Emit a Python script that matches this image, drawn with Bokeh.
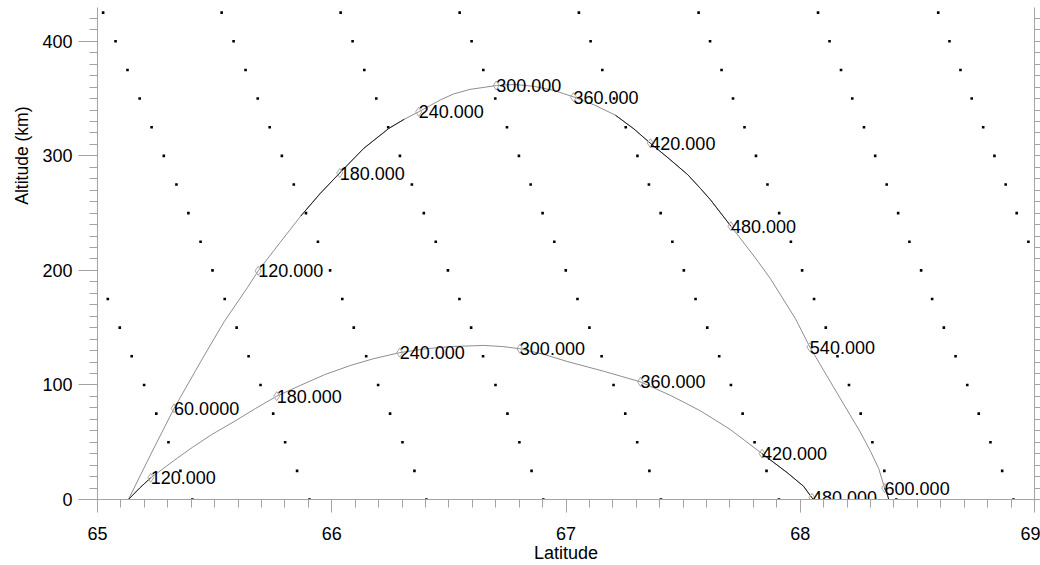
from bokeh.plotting import figure
from bokeh.models import (LinearAxis, Range1d, Title, ColumnDataSource,
                          SingleIntervalTicker, CustomJSTickFormatter)
from bokeh.embed import file_html
from bokeh.resources import INLINE
from bokeh.core.properties import value

# ---------------- data ----------------
# background sample dots (altitude levels, and latitude of each dot per diagonal row)
dot_alt = [425, 400, 375, 350, 325, 300, 275, 250, 225, 200, 175, 150, 125, 100, 75, 50, 25, 0]
dot_lat = [
    [None] * 10 + [65.044, 65.095, 65.146, 65.199, 65.251, 65.303, 65.354, 65.405],
    [65.024, 65.077, 65.128, 65.180, 65.231, 65.283, 65.337, 65.388, 65.440, 65.491,
     65.543, 65.594, 65.645, 65.696, 65.750, 65.801, 65.852, 65.905],
    [65.530, 65.581, 65.632, 65.684, 65.735, 65.787, 65.838, 65.890, 65.941, 65.993,
     66.045, 66.094, 66.147, 66.198, 66.249, 66.302, 66.353, 66.404],
    [66.038, 66.089, 66.139, 66.190, 66.241, 66.291, 66.342, 66.393, 66.444, 66.496,
     66.545, 66.595, 66.646, 66.699, 66.750, 66.801, 66.853, 66.903],
    [66.546, 66.597, 66.647, 66.698, 66.748, 66.799, 66.849, 66.900, 66.950, 66.999,
     67.049, 67.100, 67.152, 67.203, 67.253, 67.304, 67.356, 67.405],
    [67.055, 67.105, 67.155, 67.205, 67.255, 67.305, 67.354, 67.404, 67.454, 67.503,
     67.553, 67.603, 67.654, 67.704, 67.754, 67.805, 67.856, 67.909],
    [67.566, 67.615, 67.664, 67.713, 67.762, 67.811, 67.860, 67.910, 67.960, 68.008,
     68.059, 68.109, 68.159, 68.208, 68.258, 68.308, 68.359, 68.410],
    [68.076, 68.125, 68.174, 68.222, 68.272, 68.320, 68.369, 68.418, 68.466, 68.516,
     68.563, 68.613, 68.663, 68.713, 68.762, 68.812, 68.862, 68.910],
    [68.589, 68.637, 68.684, 68.732, 68.781, 68.829, 68.877, 68.924, 68.974, 69.023] + [None] * 8,
]

# outer trajectory
outer_lat = [65.132, 65.230, 65.327, 65.448, 65.540, 65.640, 65.686, 65.780, 65.868, 65.950,
             66.034, 66.137, 66.244, 66.310, 66.371, 66.465, 66.520, 66.590, 66.704, 66.780,
             66.863, 66.950, 67.033, 67.120, 67.211, 67.290, 67.360, 67.440, 67.520, 67.574,
             67.616, 67.704, 67.808, 67.872, 67.979, 68.041, 68.157, 68.256, 68.300, 68.335,
             68.360, 68.372, 68.378]
outer_alt = [0, 40.5, 79.6, 123, 155, 185, 199.6, 224.5, 247.5, 267,
             285, 306.6, 324, 332, 338.4, 349, 354, 358, 361.4, 362.3,
             360.7, 357, 351.4, 344.5, 335.5, 323.5, 311, 297.5, 283.5, 271.5,
             261.8, 238.6, 211, 193, 158, 133.1, 93, 59, 42, 27,
             10, 4, 0]
outer_time = [60, 120, 180, 240, 300, 360, 420, 480, 540, 600]
outer_mark_lat = [65.327, 65.686, 66.034, 66.371, 66.702, 67.032, 67.360, 67.704, 68.041, 68.360]
outer_mark_alt = [79.6, 199.6, 285, 338.4, 361.4, 351.2, 311, 238.6, 133.1, 10]
outer_labels = ["60.0000", "120.000", "180.000", "240.000", "300.000",
                "360.000", "420.000", "480.000", "540.000", "600.000"]
outer_dark_spans = [(65.86, 66.32), (67.20, 67.71), (68.35, 68.40)]

# inner trajectory
inner_lat = [65.132, 65.180, 65.227, 65.341, 65.405, 65.490, 65.583, 65.675, 65.765, 65.868,
             65.970, 66.081, 66.180, 66.290, 66.400, 66.507, 66.649, 66.730, 66.803, 66.900,
             67.005, 67.160, 67.318, 67.450, 67.574, 67.702, 67.837, 67.944, 68.014, 68.050,
             68.057]
inner_alt = [0, 10, 18.9, 36.2, 45.5, 57, 68, 79.5, 90.2, 99.8,
             109, 117.1, 123, 128.2, 131.5, 133.5, 134.5, 133.5, 131.6, 127,
             120.5, 112, 102.7, 90.5, 77.4, 61, 40, 23.5, 11.6, 1.5,
             0]
inner_time = [120, 180, 240, 300, 360, 420, 480]
inner_mark_lat = [65.227, 65.765, 66.290, 66.803, 67.318, 67.837, 68.050]
inner_mark_alt = [18.9, 90.2, 128.2, 131.6, 102.7, 40, 1.5]
inner_labels = ["120.000", "180.000", "240.000", "300.000", "360.000", "420.000", "480.000"]
inner_dark_spans = [(65.13, 65.23), (67.83, 68.06)]

x_label = "Latitude"
y_label = "Altitude (km)"

# ---------------- styles ----------------
FONT = "Liberation Sans"
AXIS_GRAY = "#a3a3a3"
LINE_GRAY = "#8e8e8e"

p = figure(width=1040, height=565, output_backend="svg", toolbar_location=None,
           x_range=Range1d(65, 69), y_range=Range1d(0, 429.5),
           min_border_left=97, min_border_right=6, min_border_top=7, min_border_bottom=63)
p.xgrid.visible = False
p.ygrid.visible = False
p.outline_line_color = None
p.background_fill_color = "white"
p.border_fill_color = "white"

xa = p.xaxis[0]
xa.ticker = SingleIntervalTicker(interval=1, num_minor_ticks=10)
xa.axis_line_color = AXIS_GRAY
xa.major_tick_line_color = AXIS_GRAY
xa.minor_tick_line_color = AXIS_GRAY
xa.major_tick_in = 0
xa.major_tick_out = 13
xa.minor_tick_in = 0
xa.minor_tick_out = 8
xa.major_label_standoff = 14
xa.major_label_text_font = FONT
xa.major_label_text_font_size = "18px"
xa.major_label_text_color = "black"
xa.axis_label = x_label
xa.axis_label_text_font = FONT
xa.axis_label_text_font_size = "18px"
xa.axis_label_text_font_style = "normal"
xa.axis_label_text_color = "black"
xa.axis_label_standoff = 0

ya = p.yaxis[0]
ya.ticker = SingleIntervalTicker(interval=100, num_minor_ticks=10)
ya.axis_line_color = AXIS_GRAY
ya.major_tick_line_color = AXIS_GRAY
ya.minor_tick_line_color = AXIS_GRAY
ya.major_tick_in = 0
ya.major_tick_out = 19
ya.minor_tick_in = 0
ya.minor_tick_out = 8
ya.major_label_standoff = 6
ya.major_label_text_font = FONT
ya.major_label_text_font_size = "18px"
ya.major_label_text_color = "black"

ra = LinearAxis(ticker=SingleIntervalTicker(interval=100, num_minor_ticks=10),
                formatter=CustomJSTickFormatter(code="return ''"),
                axis_line_color=AXIS_GRAY, major_tick_line_color=AXIS_GRAY,
                minor_tick_line_color=AXIS_GRAY, major_tick_in=0, major_tick_out=6,
                minor_tick_in=0, minor_tick_out=6, major_label_standoff=0)
p.add_layout(ra, "right")

# y axis title, placed above centre as in the original
ttl = Title(text=y_label, align="right", offset=99, text_font=FONT,
            text_font_size="17.5px", text_font_style="normal", text_color="black")
if "standoff" in Title.properties():
    ttl.standoff = 15
p.add_layout(ttl, "left")

# dots
dx, dy = [], []
for row in dot_lat:
    for la, al in zip(row, dot_alt):
        if la is not None:
            dx.append(la)
            dy.append(al)
p.scatter(dx, dy, marker="square", size=2.6, color="black", line_color=None)

# trajectories
p.line(outer_lat, outer_alt, line_color=LINE_GRAY, line_width=1)
p.line(inner_lat, inner_alt, line_color=LINE_GRAY, line_width=1)


def spans_select(lats, alts, spans):
    out = []
    for a, b in spans:
        xs = [la for la in lats if a <= la <= b]
        ys = [al for la, al in zip(lats, alts) if a <= la <= b]
        out.append((xs, ys))
    return out


for xs, ys in spans_select(outer_lat, outer_alt, outer_dark_spans) + \
        spans_select(inner_lat, inner_alt, inner_dark_spans):
    if len(xs) > 1:
        p.line(xs, ys, line_color="#222222", line_width=1)

# diamonds
p.scatter(outer_mark_lat + inner_mark_lat, outer_mark_alt + inner_mark_alt,
          marker="diamond", size=9, fill_color=None, line_color="#a8a8a8", line_width=1)

# time labels
src = ColumnDataSource(dict(x=outer_mark_lat + inner_mark_lat,
                            y=outer_mark_alt + inner_mark_alt,
                            t=outer_labels + inner_labels))
p.text(x="x", y="y", text="t", source=src, text_font=value(FONT), text_font_size="18px",
       text_color="black", text_align="left", text_baseline="alphabetic")

open("out.html", "w").write(file_html(p, INLINE))
